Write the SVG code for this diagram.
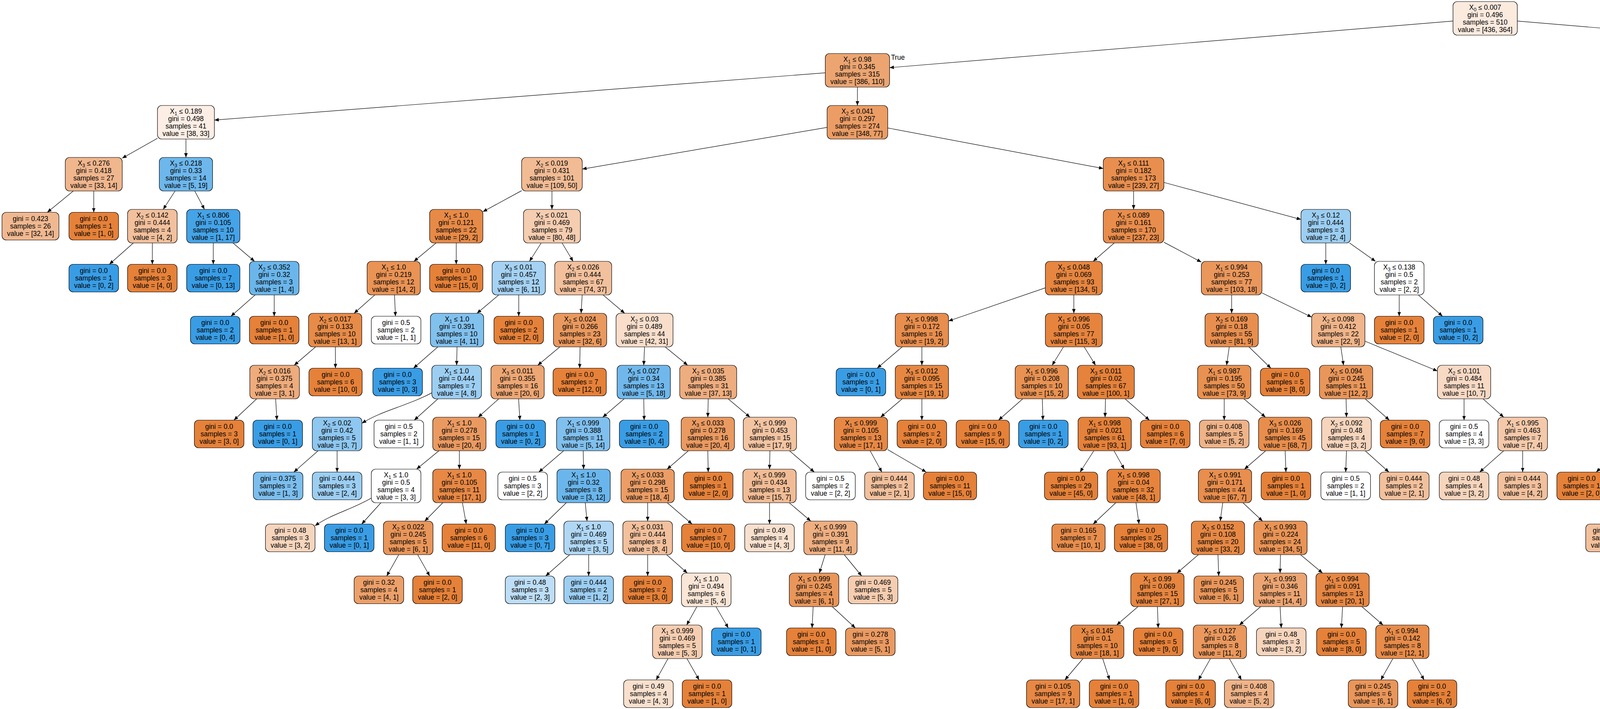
<svg xmlns="http://www.w3.org/2000/svg" width="7158" height="1815" viewBox="0 0 7158 1815">
<style>
rect{stroke:#000;stroke-width:1.2}
text{font-family:"Liberation Sans",Arial,Helvetica,sans-serif;font-size:17.5px;text-anchor:middle;fill:#000}
.s{font-size:12.5px}
.o{fill:#e58139}.b{fill:#399de5}.w{fill:#fff}
#edges path{fill:none;stroke:#000;stroke-width:1.2;marker-end:url(#a)}
</style>
<defs><marker id="a" markerWidth="12" markerHeight="10" refX="11" refY="4.5" orient="auto" markerUnits="userSpaceOnUse"><path d="M0 0L11 4.5L0 9z" fill="#000"/></marker></defs>
<g id="edges">
<path d="M3719.6 53.8L2277.4 173.2"/><path d="M3884.4 53.9L5307.4 173.5"/><path d="M2112.6 186.4L548.9 307.4"/><path d="M2195 223L2195 270"/>
<path d="M403.1 354.1L312.9 404.9"/><path d="M476 356L476 403"/><path d="M187.6 489L121.2 543.5"/><path d="M240 489L240 543.5"/>
<path d="M448.2 489L417.8 536"/><path d="M498.6 489L523.4 536"/><path d="M341.5 622L280 676.5"/><path d="M390 622L390 676.5"/>
<path d="M546 622L546 676.5"/><path d="M596.4 622L651.6 669"/><path d="M653.2 755L591.3 809.5"/><path d="M702 755L702 809.5"/>
<path d="M2117.4 326.2L1490.6 432.8"/><path d="M2272.6 327.6L2824.4 431.4"/><path d="M1335.4 488.1L1236.2 542"/><path d="M1413 489L1413 536"/>
<path d="M1116.3 622L1059.7 669"/><path d="M1168 622L1168 676.5"/><path d="M959.5 755L906.5 802"/><path d="M1009.9 755L1012.4 809.5"/>
<path d="M807.9 888L753.1 935"/><path d="M858.5 888L858.7 942.5"/><path d="M657.1 1021L598.9 1075.5"/><path d="M705.6 1021L708.9 1075.5"/>
<path d="M1385.5 622L1355.5 669"/><path d="M1438.9 622L1467.1 669"/><path d="M1276.9 755L1221.1 802"/><path d="M1328 755L1328 809.5"/>
<path d="M1120.9 888L1058.6 942.5"/><path d="M1170 888L1169 935"/><path d="M1105.5 1005.6C1040 1040 980 1050 926.5 1083.4"/><path d="M1121.1 1021L1060.5 1075.5"/>
<path d="M814.2 1154L752.3 1208.5"/><path d="M863 1154L863 1208.5"/><path d="M1490.4 755L1487.6 802"/><path d="M1543.8 755L1599.2 802"/>
<path d="M1433.3 888L1376.7 935"/><path d="M1485 888L1484 942.5"/><path d="M1276.8 1021L1224.2 1068"/><path d="M1327.6 1021L1330.9 1075.5"/>
<path d="M1123.6 1154L1066.4 1201"/><path d="M1176 1154L1176 1201"/><path d="M950.5 1275.1C900 1305 850 1315 806.5 1345.9"/><path d="M975.2 1287L926 1341.5"/>
<path d="M1133.6 1287L1087.4 1334"/><path d="M1183.8 1287L1193.6 1341.5"/><path d="M1020.8 1420L990 1474.5"/><path d="M1069.2 1420L1100 1474.5"/>
<path d="M1650 888L1648 935"/><path d="M1702.7 888L1760.3 935"/><path d="M1597.9 1021L1543.1 1068"/><path d="M1648 1021L1649 1075.5"/>
<path d="M1442.9 1154L1379.4 1208.5"/><path d="M1493 1154L1494 1201"/><path d="M1449.7 1287L1393.6 1341.5"/><path d="M1498.2 1287L1502.8 1334"/>
<path d="M1458.5 1420L1397 1474.5"/><path d="M1507 1420L1507 1474.5"/><path d="M1813 1021L1812 1068"/><path d="M1864.1 1021L1919.9 1068"/>
<path d="M1762.2 1154L1707.8 1201"/><path d="M1812 1154L1813 1208.5"/><path d="M1658 1287L1658 1334"/><path d="M1708.1 1287L1771.6 1341.5"/>
<path d="M1658 1420L1658 1474.5"/><path d="M1706.5 1420L1759.5 1467"/><path d="M1784.1 1553L1757.9 1600"/><path d="M1832.9 1553L1864.4 1607.5"/>
<path d="M1710.1 1686L1679.8 1740.5"/><path d="M1758.6 1686L1789.7 1740.5"/><path d="M1971 1154L1970 1201"/><path d="M2021.1 1154L2084.6 1208.5"/>
<path d="M1970 1287L1970 1341.5"/><path d="M2020.4 1287L2075.6 1334"/><path d="M2112.4 1420L2097.6 1467"/><path d="M2161.2 1420L2205.9 1474.5"/>
<path d="M2081.7 1553L2078.9 1607.5"/><path d="M2130.6 1553L2189.6 1607.5"/><path d="M2902 489L2902 536"/><path d="M2979.6 467L3330.5 561.8"/>
<path d="M2852.5 622L2798.5 669"/><path d="M2979.6 620.1L3075.4 670.9"/><path d="M2676.1 736.9L2428.2 821.7"/><path d="M2749 755L2749 802"/>
<path d="M2309.6 888L2245.6 942.5"/><path d="M2360 888L2360 935"/><path d="M2309.6 1021L2254.4 1068"/><path d="M2360 1021L2360 1075.5"/>
<path d="M2227.6 1154L2257.5 1208.5"/><path d="M2272.2 1150.8L2371.1 1208.5"/><path d="M2722.5 888L2693.5 935"/><path d="M2775.5 888L2804.5 935"/>
<path d="M2618.2 1021L2556.3 1075.5"/><path d="M2668.3 1021L2669.9 1075.5"/><path d="M2830 1021L2829 1068"/><path d="M2880.1 1021L2942.4 1075.5"/>
<path d="M2800.2 1154L2765 1208.5"/><path d="M2851.9 1154L2878.1 1201"/><path d="M2856.4 1287L2798.6 1341.5"/><path d="M2908.1 1287L2915.9 1341.5"/>
<path d="M3153 755L3153 802"/><path d="M3230.6 749.8L3357.8 811.8"/><path d="M3146.9 888L3140.1 935"/><path d="M3197.3 888L3253.4 942.5"/>
<path d="M3134 1021L3134 1075.5"/><path d="M3184.4 1021L3239.6 1068"/><path d="M3240.2 1154L3185.8 1201"/><path d="M3290 1154L3292 1208.5"/>
<path d="M3130.2 1287L3123.8 1334"/><path d="M3181.9 1287L3232.1 1334"/><path d="M3067.9 1420L3013.1 1467"/><path d="M3118 1420L3120 1474.5"/>
<path d="M2913.2 1553L2858.8 1600"/><path d="M2963 1553L2965 1607.5"/><path d="M2772.5 1686L2726.2 1740.5"/><path d="M2822.9 1686L2840.5 1740.5"/>
<path d="M3278 1420L3277 1467"/><path d="M3329.4 1420L3385.6 1467"/><path d="M3227.2 1553L3172.8 1600"/><path d="M3277 1553L3280 1607.5"/>
<path d="M3098.8 1686L3068 1740.5"/><path d="M3147.2 1686L3178 1740.5"/><path d="M3437 1553L3434 1607.5"/><path d="M3486.5 1553L3540.5 1600"/>
<path d="M3565.8 1686L3535 1740.5"/><path d="M3614.6 1686L3645.7 1740.5"/><path d="M3432.5 888L3439.5 935"/><path d="M3494.2 873.2L3679.8 949.8"/>
<path d="M3446 1021L3447 1068"/><path d="M3494.8 1021L3556.7 1075.5"/><path d="M3447 1154L3445 1208.5"/><path d="M3494.9 1154L3555.5 1208.5"/>
<path d="M3748 1021L3748 1075.5"/><path d="M3796.5 1021L3849.5 1068"/><path d="M3849.5 1154L3788 1208.5"/><path d="M3898 1154L3898 1208.5"/>
<path d="M3394 622L3394 676.5"/><path d="M3454.8 622L3521.2 669"/><path d="M3582 755L3582 809.5"/><path d="M3630.8 755L3692.7 809.5"/>
<path d="M5385 223L5385 270"/><path d="M5462.6 188.7L6496.1 304.8"/><path d="M5358.5 356L5324.9 410.5"/><path d="M5411.8 356L5441.2 403"/>
<path d="M5419.2 489L5365.8 536"/><path d="M5543.3 489L5628.1 537.4"/><path d="M5244.1 620.1L5153.9 670.9"/><path d="M5317 622L5317 669"/>
<path d="M5008.1 731L4638.2 827.3"/><path d="M5081 755L5081 802"/><path d="M4501.8 884.3L4402.5 941.5"/><path d="M4570 888L4570 935"/>
<path d="M4290.5 1021L4237.5 1068"/><path d="M4339 1021L4339 1075.5"/><path d="M4143.7 1154L4086.4 1208.5"/><path d="M4192.2 1154L4195.8 1201"/>
<path d="M4174.4 1287L4143.3 1341.5"/><path d="M4223.2 1287L4249.8 1334"/><path d="M4249.4 1420L4218.3 1474.5"/><path d="M4298.2 1420L4329 1474.5"/>
<path d="M4544.1 1021L4515.9 1068"/><path d="M4595.2 1021L4627.2 1075.5"/><path d="M4444.7 1154L4387.4 1208.5"/><path d="M4493.6 1154L4498.1 1208.5"/>
<path d="M5039.6 888L4994.4 935"/><path d="M5088.4 888L5096.6 935"/><path d="M4904.2 1021L4850.8 1068"/><path d="M4953 1021L4953 1075.5"/>
<path d="M4753.5 1154L4700.5 1201"/><path d="M4802 1154L4802 1208.5"/><path d="M4627.1 1287L4595.6 1341.5"/><path d="M4675.9 1287L4706.2 1341.5"/>
<path d="M5104 1021L5104 1068"/><path d="M5152.5 1021L5205.5 1068"/><path d="M5055.2 1154L4993.3 1208.5"/><path d="M5104 1154L5104 1208.5"/>
<path d="M5254 1154L5254 1208.5"/><path d="M5302.8 1154L5364.7 1208.5"/><path d="M5305.7 755L5293.3 802"/><path d="M5357.4 755L5408.6 809.5"/>
<path d="M5274.9 888L5267.1 935"/><path d="M5325.6 888L5381 942.5"/><path d="M5323.5 1016.5L5415.5 1072.5"/><path d="M5323.5 1019C5385 1045 5480 1040 5570 1075.5"/>
<path d="M5503.9 1154L5535.4 1208.5"/><path d="M5542.5 1148L5643.5 1207"/><path d="M5682.1 1287L5650.6 1341.5"/><path d="M5730.9 1287L5761.2 1341.5"/>
<path d="M5701 622L5701 669"/><path d="M5773.9 616.4L5891.8 677"/><path d="M5676.1 755L5648.9 802"/><path d="M5724.9 755L5755.2 809.5"/>
<path d="M5607.5 888L5586.6 942.5"/><path d="M5656 888L5696.6 942.5"/><path d="M5960 755L5960 802"/><path d="M6028.2 752.1L6122.5 807.7"/>
<path d="M5933.8 888L5900.6 942.5"/><path d="M5984.6 888L6011.4 935"/><path d="M5987.2 1021L5925.3 1075.5"/><path d="M6036 1021L6036 1075.5"/>
<path d="M6186 888L6186 935"/><path d="M6234.5 888L6296 942.5"/><path d="M6186 1021L6186 1075.5"/><path d="M6234.5 1021L6287.5 1068"/>
<path d="M6292 1154L6236.3 1208.5"/><path d="M6340.5 1154L6346.3 1208.5"/><path d="M6569 356L6569 403"/><path d="M6622.3 356L6690 410.5"/>
<path d="M6569 489L6569 536"/><path d="M6621.4 489L6687.8 543.5"/><path d="M6569 622L6569 669"/><path d="M6641.9 620.1L6736.8 673.6"/>
<path d="M6544.8 755L6518.2 802"/><path d="M6594.9 755L6627.6 809.5"/><path d="M6494 888L6493 942.5"/><path d="M6544.1 888L6598.9 935"/>
<path d="M6603.1 1021L6544.9 1075.5"/><path d="M6651.9 1021L6655.1 1068"/><path d="M6611.8 1154L6553.2 1208.5"/><path d="M6660.6 1154L6663.9 1208.5"/>
<path d="M6805 755L6805 802"/><path d="M6856.7 755L6922.3 809.5"/><path d="M6805 888L6802 942.5"/><path d="M6854.8 888L6909.2 935"/>
<path d="M6948 1021L6936 1068"/><path d="M7000.7 1021L7053.6 1075.5"/><path d="M6903 1154L6875.2 1208.5"/><path d="M6951.5 1154L6985.1 1208.5"/>
</g>
<text x="2281" y="153" style="text-anchor:start">True</text>
<text x="5306" y="153" style="text-anchor:end">False</text>
<g id="n0"><rect x="3719.65" y="4" width="164.7" height="86" rx="11" fill="#fbeade"/><text x="3802" y="24.5">X<tspan class="s" dy="4">0</tspan><tspan dy="-4"> ≤ 0.007</tspan><tspan x="3802" dy="19">gini = 0.496</tspan><tspan x="3802" dy="19">samples = 510</tspan><tspan x="3802" dy="19">value = [436, 364]</tspan></text></g>
<g id="n1"><rect x="2112.65" y="137" width="164.7" height="86" rx="11" fill="#eca571"/><text x="2195" y="157.5">X<tspan class="s" dy="4">1</tspan><tspan dy="-4"> ≤ 0.98</tspan><tspan x="2195" dy="19">gini = 0.345</tspan><tspan x="2195" dy="19">samples = 315</tspan><tspan x="2195" dy="19">value = [386, 110]</tspan></text></g>
<g id="n2"><rect x="403.1" y="270" width="145.8" height="86" rx="11" fill="#fceee5"/><text x="476" y="290.5">X<tspan class="s" dy="4">1</tspan><tspan dy="-4"> ≤ 0.189</tspan><tspan x="476" dy="19">gini = 0.498</tspan><tspan x="476" dy="19">samples = 41</tspan><tspan x="476" dy="19">value = [38, 33]</tspan></text></g>
<g id="n3"><rect x="167.1" y="403" width="145.8" height="86" rx="11" fill="#f0b68d"/><text x="240" y="423.5">X<tspan class="s" dy="4">3</tspan><tspan dy="-4"> ≤ 0.276</tspan><tspan x="240" dy="19">gini = 0.418</tspan><tspan x="240" dy="19">samples = 27</tspan><tspan x="240" dy="19">value = [33, 14]</tspan></text></g>
<g id="n4"><rect x="5.1" y="543.5" width="145.8" height="71" rx="11" fill="#f0b890"/><text x="78" y="566">gini = 0.423<tspan x="78" dy="19">samples = 26</tspan><tspan x="78" dy="19">value = [32, 14]</tspan></text></g>
<g id="n5"><rect x="176.5" y="543.5" width="127" height="71" rx="11" class="o"/><text x="240" y="566">gini = 0.0<tspan x="240" dy="19">samples = 1</tspan><tspan x="240" dy="19">value = [1, 0]</tspan></text></g>
<g id="n6"><rect x="407.8" y="403" width="136.4" height="86" rx="11" fill="#6db7ec"/><text x="476" y="423.5">X<tspan class="s" dy="4">3</tspan><tspan dy="-4"> ≤ 0.218</tspan><tspan x="476" dy="19">gini = 0.33</tspan><tspan x="476" dy="19">samples = 14</tspan><tspan x="476" dy="19">value = [5, 19]</tspan></text></g>
<g id="n7"><rect x="326.5" y="536" width="127" height="86" rx="11" fill="#f2c09c"/><text x="390" y="556.5">X<tspan class="s" dy="4">2</tspan><tspan dy="-4"> ≤ 0.142</tspan><tspan x="390" dy="19">gini = 0.444</tspan><tspan x="390" dy="19">samples = 4</tspan><tspan x="390" dy="19">value = [4, 2]</tspan></text></g>
<g id="n8"><rect x="176.5" y="676.5" width="127" height="71" rx="11" class="b"/><text x="240" y="699">gini = 0.0<tspan x="240" dy="19">samples = 1</tspan><tspan x="240" dy="19">value = [0, 2]</tspan></text></g>
<g id="n9"><rect x="326.5" y="676.5" width="127" height="71" rx="11" class="o"/><text x="390" y="699">gini = 0.0<tspan x="390" dy="19">samples = 3</tspan><tspan x="390" dy="19">value = [4, 0]</tspan></text></g>
<g id="n10"><rect x="477.8" y="536" width="136.4" height="86" rx="11" fill="#45a3e7"/><text x="546" y="556.5">X<tspan class="s" dy="4">1</tspan><tspan dy="-4"> ≤ 0.806</tspan><tspan x="546" dy="19">gini = 0.105</tspan><tspan x="546" dy="19">samples = 10</tspan><tspan x="546" dy="19">value = [1, 17]</tspan></text></g>
<g id="n11"><rect x="477.8" y="676.5" width="136.4" height="71" rx="11" class="b"/><text x="546" y="699">gini = 0.0<tspan x="546" dy="19">samples = 7</tspan><tspan x="546" dy="19">value = [0, 13]</tspan></text></g>
<g id="n12"><rect x="638.5" y="669" width="127" height="86" rx="11" fill="#6ab6ec"/><text x="702" y="689.5">X<tspan class="s" dy="4">2</tspan><tspan dy="-4"> ≤ 0.352</tspan><tspan x="702" dy="19">gini = 0.32</tspan><tspan x="702" dy="19">samples = 3</tspan><tspan x="702" dy="19">value = [1, 4]</tspan></text></g>
<g id="n13"><rect x="487.5" y="809.5" width="127" height="71" rx="11" class="b"/><text x="551" y="832">gini = 0.0<tspan x="551" dy="19">samples = 2</tspan><tspan x="551" dy="19">value = [0, 4]</tspan></text></g>
<g id="n14"><rect x="638.5" y="809.5" width="127" height="71" rx="11" class="o"/><text x="702" y="832">gini = 0.0<tspan x="702" dy="19">samples = 1</tspan><tspan x="702" dy="19">value = [1, 0]</tspan></text></g>
<g id="n15"><rect x="2117.4" y="270" width="155.2" height="86" rx="11" fill="#eb9d65"/><text x="2195" y="290.5">X<tspan class="s" dy="4">2</tspan><tspan dy="-4"> ≤ 0.041</tspan><tspan x="2195" dy="19">gini = 0.297</tspan><tspan x="2195" dy="19">samples = 274</tspan><tspan x="2195" dy="19">value = [348, 77]</tspan></text></g>
<g id="n16"><rect x="1335.4" y="403" width="155.2" height="86" rx="11" fill="#f1bb94"/><text x="1413" y="423.5">X<tspan class="s" dy="4">2</tspan><tspan dy="-4"> ≤ 0.019</tspan><tspan x="1413" dy="19">gini = 0.431</tspan><tspan x="1413" dy="19">samples = 101</tspan><tspan x="1413" dy="19">value = [109, 50]</tspan></text></g>
<g id="n17"><rect x="1099.8" y="536" width="136.4" height="86" rx="11" fill="#e78a47"/><text x="1168" y="556.5">X<tspan class="s" dy="4">1</tspan><tspan dy="-4"> ≤ 1.0</tspan><tspan x="1168" dy="19">gini = 0.121</tspan><tspan x="1168" dy="19">samples = 22</tspan><tspan x="1168" dy="19">value = [29, 2]</tspan></text></g>
<g id="n18"><rect x="939.8" y="669" width="136.4" height="86" rx="11" fill="#e99355"/><text x="1008" y="689.5">X<tspan class="s" dy="4">1</tspan><tspan dy="-4"> ≤ 1.0</tspan><tspan x="1008" dy="19">gini = 0.219</tspan><tspan x="1008" dy="19">samples = 12</tspan><tspan x="1008" dy="19">value = [14, 2]</tspan></text></g>
<g id="n19"><rect x="789.8" y="802" width="136.4" height="86" rx="11" fill="#e78b48"/><text x="858" y="822.5">X<tspan class="s" dy="4">2</tspan><tspan dy="-4"> ≤ 0.017</tspan><tspan x="858" dy="19">gini = 0.133</tspan><tspan x="858" dy="19">samples = 10</tspan><tspan x="858" dy="19">value = [13, 1]</tspan></text></g>
<g id="n20"><rect x="639.5" y="935" width="127" height="86" rx="11" fill="#eeab7b"/><text x="703" y="955.5">X<tspan class="s" dy="4">2</tspan><tspan dy="-4"> ≤ 0.016</tspan><tspan x="703" dy="19">gini = 0.375</tspan><tspan x="703" dy="19">samples = 4</tspan><tspan x="703" dy="19">value = [3, 1]</tspan></text></g>
<g id="n21"><rect x="497.5" y="1075.5" width="127" height="71" rx="11" class="o"/><text x="561" y="1098">gini = 0.0<tspan x="561" dy="19">samples = 3</tspan><tspan x="561" dy="19">value = [3, 0]</tspan></text></g>
<g id="n22"><rect x="647.5" y="1075.5" width="127" height="71" rx="11" class="b"/><text x="711" y="1098">gini = 0.0<tspan x="711" dy="19">samples = 1</tspan><tspan x="711" dy="19">value = [0, 1]</tspan></text></g>
<g id="n23"><rect x="790.8" y="942.5" width="136.4" height="71" rx="11" class="o"/><text x="859" y="965">gini = 0.0<tspan x="859" dy="19">samples = 6</tspan><tspan x="859" dy="19">value = [10, 0]</tspan></text></g>
<g id="n24"><rect x="950.5" y="809.5" width="127" height="71" rx="11" class="w"/><text x="1014" y="832">gini = 0.5<tspan x="1014" dy="19">samples = 2</tspan><tspan x="1014" dy="19">value = [1, 1]</tspan></text></g>
<g id="n25"><rect x="1099.8" y="676.5" width="136.4" height="71" rx="11" class="o"/><text x="1168" y="699">gini = 0.0<tspan x="1168" dy="19">samples = 10</tspan><tspan x="1168" dy="19">value = [15, 0]</tspan></text></g>
<g id="n26"><rect x="1340.1" y="536" width="145.8" height="86" rx="11" fill="#f5cdb0"/><text x="1413" y="556.5">X<tspan class="s" dy="4">2</tspan><tspan dy="-4"> ≤ 0.021</tspan><tspan x="1413" dy="19">gini = 0.469</tspan><tspan x="1413" dy="19">samples = 79</tspan><tspan x="1413" dy="19">value = [80, 48]</tspan></text></g>
<g id="n27"><rect x="1259.8" y="669" width="136.4" height="86" rx="11" fill="#a5d2f3"/><text x="1328" y="689.5">X<tspan class="s" dy="4">3</tspan><tspan dy="-4"> ≤ 0.01</tspan><tspan x="1328" dy="19">gini = 0.457</tspan><tspan x="1328" dy="19">samples = 12</tspan><tspan x="1328" dy="19">value = [6, 11]</tspan></text></g>
<g id="n28"><rect x="1101.8" y="802" width="136.4" height="86" rx="11" fill="#81c1ee"/><text x="1170" y="822.5">X<tspan class="s" dy="4">1</tspan><tspan dy="-4"> ≤ 1.0</tspan><tspan x="1170" dy="19">gini = 0.391</tspan><tspan x="1170" dy="19">samples = 10</tspan><tspan x="1170" dy="19">value = [4, 11]</tspan></text></g>
<g id="n29"><rect x="954.5" y="942.5" width="127" height="71" rx="11" class="b"/><text x="1018" y="965">gini = 0.0<tspan x="1018" dy="19">samples = 3</tspan><tspan x="1018" dy="19">value = [0, 3]</tspan></text></g>
<g id="n30"><rect x="1105.5" y="935" width="127" height="86" rx="11" fill="#9ccef2"/><text x="1169" y="955.5">X<tspan class="s" dy="4">1</tspan><tspan dy="-4"> ≤ 1.0</tspan><tspan x="1169" dy="19">gini = 0.444</tspan><tspan x="1169" dy="19">samples = 7</tspan><tspan x="1169" dy="19">value = [4, 8]</tspan></text></g>
<g id="n31"><rect x="799.5" y="1068" width="127" height="86" rx="11" fill="#8ec7f0"/><text x="863" y="1088.5">X<tspan class="s" dy="4">2</tspan><tspan dy="-4"> ≤ 0.02</tspan><tspan x="863" dy="19">gini = 0.42</tspan><tspan x="863" dy="19">samples = 5</tspan><tspan x="863" dy="19">value = [3, 7]</tspan></text></g>
<g id="n32"><rect x="648.5" y="1208.5" width="127" height="71" rx="11" fill="#7bbeee"/><text x="712" y="1231">gini = 0.375<tspan x="712" dy="19">samples = 2</tspan><tspan x="712" dy="19">value = [1, 3]</tspan></text></g>
<g id="n33"><rect x="799.5" y="1208.5" width="127" height="71" rx="11" fill="#9ccef2"/><text x="863" y="1231">gini = 0.444<tspan x="863" dy="19">samples = 3</tspan><tspan x="863" dy="19">value = [2, 4]</tspan></text></g>
<g id="n34"><rect x="957.5" y="1075.5" width="127" height="71" rx="11" class="w"/><text x="1021" y="1098">gini = 0.5<tspan x="1021" dy="19">samples = 2</tspan><tspan x="1021" dy="19">value = [1, 1]</tspan></text></g>
<g id="n35"><rect x="1264.5" y="809.5" width="127" height="71" rx="11" class="o"/><text x="1328" y="832">gini = 0.0<tspan x="1328" dy="19">samples = 2</tspan><tspan x="1328" dy="19">value = [2, 0]</tspan></text></g>
<g id="n36"><rect x="1420.1" y="669" width="145.8" height="86" rx="11" fill="#f2c09c"/><text x="1493" y="689.5">X<tspan class="s" dy="4">2</tspan><tspan dy="-4"> ≤ 0.026</tspan><tspan x="1493" dy="19">gini = 0.444</tspan><tspan x="1493" dy="19">samples = 67</tspan><tspan x="1493" dy="19">value = [74, 37]</tspan></text></g>
<g id="n37"><rect x="1416.8" y="802" width="136.4" height="86" rx="11" fill="#ea995e"/><text x="1485" y="822.5">X<tspan class="s" dy="4">2</tspan><tspan dy="-4"> ≤ 0.024</tspan><tspan x="1485" dy="19">gini = 0.266</tspan><tspan x="1485" dy="19">samples = 23</tspan><tspan x="1485" dy="19">value = [32, 6]</tspan></text></g>
<g id="n38"><rect x="1256.8" y="935" width="136.4" height="86" rx="11" fill="#eda774"/><text x="1325" y="955.5">X<tspan class="s" dy="4">3</tspan><tspan dy="-4"> ≤ 0.011</tspan><tspan x="1325" dy="19">gini = 0.355</tspan><tspan x="1325" dy="19">samples = 16</tspan><tspan x="1325" dy="19">value = [20, 6]</tspan></text></g>
<g id="n39"><rect x="1107.8" y="1068" width="136.4" height="86" rx="11" fill="#ea9a61"/><text x="1176" y="1088.5">X<tspan class="s" dy="4">1</tspan><tspan dy="-4"> ≤ 1.0</tspan><tspan x="1176" dy="19">gini = 0.278</tspan><tspan x="1176" dy="19">samples = 15</tspan><tspan x="1176" dy="19">value = [20, 4]</tspan></text></g>
<g id="n40"><rect x="950.5" y="1201" width="127" height="86" rx="11" class="w"/><text x="1014" y="1221.5">X<tspan class="s" dy="4">1</tspan><tspan dy="-4"> ≤ 1.0</tspan><tspan x="1014" dy="19">gini = 0.5</tspan><tspan x="1014" dy="19">samples = 4</tspan><tspan x="1014" dy="19">value = [3, 3]</tspan></text></g>
<g id="n41"><rect x="679.5" y="1341.5" width="127" height="71" rx="11" fill="#f6d5bd"/><text x="743" y="1364">gini = 0.48<tspan x="743" dy="19">samples = 3</tspan><tspan x="743" dy="19">value = [3, 2]</tspan></text></g>
<g id="n42"><rect x="830.5" y="1341.5" width="127" height="71" rx="11" class="b"/><text x="894" y="1364">gini = 0.0<tspan x="894" dy="19">samples = 1</tspan><tspan x="894" dy="19">value = [0, 1]</tspan></text></g>
<g id="n43"><rect x="1107.8" y="1201" width="136.4" height="86" rx="11" fill="#e78845"/><text x="1176" y="1221.5">X<tspan class="s" dy="4">1</tspan><tspan dy="-4"> ≤ 1.0</tspan><tspan x="1176" dy="19">gini = 0.105</tspan><tspan x="1176" dy="19">samples = 11</tspan><tspan x="1176" dy="19">value = [17, 1]</tspan></text></g>
<g id="n44"><rect x="981.5" y="1334" width="127" height="86" rx="11" fill="#e9965a"/><text x="1045" y="1354.5">X<tspan class="s" dy="4">2</tspan><tspan dy="-4"> ≤ 0.022</tspan><tspan x="1045" dy="19">gini = 0.245</tspan><tspan x="1045" dy="19">samples = 5</tspan><tspan x="1045" dy="19">value = [6, 1]</tspan></text></g>
<g id="n45"><rect x="906.5" y="1474.5" width="127" height="71" rx="11" fill="#eca06a"/><text x="970" y="1497">gini = 0.32<tspan x="970" dy="19">samples = 4</tspan><tspan x="970" dy="19">value = [4, 1]</tspan></text></g>
<g id="n46"><rect x="1056.5" y="1474.5" width="127" height="71" rx="11" class="o"/><text x="1120" y="1497">gini = 0.0<tspan x="1120" dy="19">samples = 1</tspan><tspan x="1120" dy="19">value = [2, 0]</tspan></text></g>
<g id="n47"><rect x="1131.8" y="1341.5" width="136.4" height="71" rx="11" class="o"/><text x="1200" y="1364">gini = 0.0<tspan x="1200" dy="19">samples = 6</tspan><tspan x="1200" dy="19">value = [11, 0]</tspan></text></g>
<g id="n48"><rect x="1269.5" y="1075.5" width="127" height="71" rx="11" class="b"/><text x="1333" y="1098">gini = 0.0<tspan x="1333" dy="19">samples = 1</tspan><tspan x="1333" dy="19">value = [0, 2]</tspan></text></g>
<g id="n49"><rect x="1415.8" y="942.5" width="136.4" height="71" rx="11" class="o"/><text x="1484" y="965">gini = 0.0<tspan x="1484" dy="19">samples = 7</tspan><tspan x="1484" dy="19">value = [12, 0]</tspan></text></g>
<g id="n50"><rect x="1577.1" y="802" width="145.8" height="86" rx="11" fill="#f8decb"/><text x="1650" y="822.5">X<tspan class="s" dy="4">2</tspan><tspan dy="-4"> ≤ 0.03</tspan><tspan x="1650" dy="19">gini = 0.489</tspan><tspan x="1650" dy="19">samples = 44</tspan><tspan x="1650" dy="19">value = [42, 31]</tspan></text></g>
<g id="n51"><rect x="1579.8" y="935" width="136.4" height="86" rx="11" fill="#70b8ec"/><text x="1648" y="955.5">X<tspan class="s" dy="4">3</tspan><tspan dy="-4"> ≤ 0.027</tspan><tspan x="1648" dy="19">gini = 0.34</tspan><tspan x="1648" dy="19">samples = 13</tspan><tspan x="1648" dy="19">value = [5, 18]</tspan></text></g>
<g id="n52"><rect x="1424.8" y="1068" width="136.4" height="86" rx="11" fill="#80c0ee"/><text x="1493" y="1088.5">X<tspan class="s" dy="4">1</tspan><tspan dy="-4"> ≤ 0.999</tspan><tspan x="1493" dy="19">gini = 0.388</tspan><tspan x="1493" dy="19">samples = 11</tspan><tspan x="1493" dy="19">value = [5, 14]</tspan></text></g>
<g id="n53"><rect x="1274.5" y="1208.5" width="127" height="71" rx="11" class="w"/><text x="1338" y="1231">gini = 0.5<tspan x="1338" dy="19">samples = 3</tspan><tspan x="1338" dy="19">value = [2, 2]</tspan></text></g>
<g id="n54"><rect x="1425.8" y="1201" width="136.4" height="86" rx="11" fill="#6ab6ec"/><text x="1494" y="1221.5">X<tspan class="s" dy="4">1</tspan><tspan dy="-4"> ≤ 1.0</tspan><tspan x="1494" dy="19">gini = 0.32</tspan><tspan x="1494" dy="19">samples = 8</tspan><tspan x="1494" dy="19">value = [3, 12]</tspan></text></g>
<g id="n55"><rect x="1293.5" y="1341.5" width="127" height="71" rx="11" class="b"/><text x="1357" y="1364">gini = 0.0<tspan x="1357" dy="19">samples = 3</tspan><tspan x="1357" dy="19">value = [0, 7]</tspan></text></g>
<g id="n56"><rect x="1443.5" y="1334" width="127" height="86" rx="11" fill="#b0d8f5"/><text x="1507" y="1354.5">X<tspan class="s" dy="4">1</tspan><tspan dy="-4"> ≤ 1.0</tspan><tspan x="1507" dy="19">gini = 0.469</tspan><tspan x="1507" dy="19">samples = 5</tspan><tspan x="1507" dy="19">value = [3, 5]</tspan></text></g>
<g id="n57"><rect x="1293.5" y="1474.5" width="127" height="71" rx="11" fill="#bddef6"/><text x="1357" y="1497">gini = 0.48<tspan x="1357" dy="19">samples = 3</tspan><tspan x="1357" dy="19">value = [2, 3]</tspan></text></g>
<g id="n58"><rect x="1443.5" y="1474.5" width="127" height="71" rx="11" fill="#9ccef2"/><text x="1507" y="1497">gini = 0.444<tspan x="1507" dy="19">samples = 2</tspan><tspan x="1507" dy="19">value = [1, 2]</tspan></text></g>
<g id="n59"><rect x="1585.5" y="1075.5" width="127" height="71" rx="11" class="b"/><text x="1649" y="1098">gini = 0.0<tspan x="1649" dy="19">samples = 2</tspan><tspan x="1649" dy="19">value = [0, 4]</tspan></text></g>
<g id="n60"><rect x="1740.1" y="935" width="145.8" height="86" rx="11" fill="#eead7f"/><text x="1813" y="955.5">X<tspan class="s" dy="4">2</tspan><tspan dy="-4"> ≤ 0.035</tspan><tspan x="1813" dy="19">gini = 0.385</tspan><tspan x="1813" dy="19">samples = 31</tspan><tspan x="1813" dy="19">value = [37, 13]</tspan></text></g>
<g id="n61"><rect x="1743.8" y="1068" width="136.4" height="86" rx="11" fill="#ea9a61"/><text x="1812" y="1088.5">X<tspan class="s" dy="4">3</tspan><tspan dy="-4"> ≤ 0.033</tspan><tspan x="1812" dy="19">gini = 0.278</tspan><tspan x="1812" dy="19">samples = 16</tspan><tspan x="1812" dy="19">value = [20, 4]</tspan></text></g>
<g id="n62"><rect x="1589.8" y="1201" width="136.4" height="86" rx="11" fill="#eb9d65"/><text x="1658" y="1221.5">X<tspan class="s" dy="4">2</tspan><tspan dy="-4"> ≤ 0.033</tspan><tspan x="1658" dy="19">gini = 0.298</tspan><tspan x="1658" dy="19">samples = 15</tspan><tspan x="1658" dy="19">value = [18, 4]</tspan></text></g>
<g id="n63"><rect x="1594.5" y="1334" width="127" height="86" rx="11" fill="#f2c09c"/><text x="1658" y="1354.5">X<tspan class="s" dy="4">2</tspan><tspan dy="-4"> ≤ 0.031</tspan><tspan x="1658" dy="19">gini = 0.444</tspan><tspan x="1658" dy="19">samples = 8</tspan><tspan x="1658" dy="19">value = [8, 4]</tspan></text></g>
<g id="n64"><rect x="1594.5" y="1474.5" width="127" height="71" rx="11" class="o"/><text x="1658" y="1497">gini = 0.0<tspan x="1658" dy="19">samples = 2</tspan><tspan x="1658" dy="19">value = [3, 0]</tspan></text></g>
<g id="n65"><rect x="1744.5" y="1467" width="127" height="86" rx="11" fill="#fae6d7"/><text x="1808" y="1487.5">X<tspan class="s" dy="4">1</tspan><tspan dy="-4"> ≤ 1.0</tspan><tspan x="1808" dy="19">gini = 0.494</tspan><tspan x="1808" dy="19">samples = 6</tspan><tspan x="1808" dy="19">value = [5, 4]</tspan></text></g>
<g id="n66"><rect x="1670.5" y="1600" width="127" height="86" rx="11" fill="#f5cdb0"/><text x="1734" y="1620.5">X<tspan class="s" dy="4">1</tspan><tspan dy="-4"> ≤ 0.999</tspan><tspan x="1734" dy="19">gini = 0.469</tspan><tspan x="1734" dy="19">samples = 5</tspan><tspan x="1734" dy="19">value = [5, 3]</tspan></text></g>
<g id="n67"><rect x="1596.5" y="1740.5" width="127" height="71" rx="11" fill="#f8e0ce"/><text x="1660" y="1763">gini = 0.49<tspan x="1660" dy="19">samples = 4</tspan><tspan x="1660" dy="19">value = [4, 3]</tspan></text></g>
<g id="n68"><rect x="1746.5" y="1740.5" width="127" height="71" rx="11" class="o"/><text x="1810" y="1763">gini = 0.0<tspan x="1810" dy="19">samples = 1</tspan><tspan x="1810" dy="19">value = [1, 0]</tspan></text></g>
<g id="n69"><rect x="1821.5" y="1607.5" width="127" height="71" rx="11" class="b"/><text x="1885" y="1630">gini = 0.0<tspan x="1885" dy="19">samples = 1</tspan><tspan x="1885" dy="19">value = [0, 1]</tspan></text></g>
<g id="n70"><rect x="1744.8" y="1341.5" width="136.4" height="71" rx="11" class="o"/><text x="1813" y="1364">gini = 0.0<tspan x="1813" dy="19">samples = 7</tspan><tspan x="1813" dy="19">value = [10, 0]</tspan></text></g>
<g id="n71"><rect x="1749.5" y="1208.5" width="127" height="71" rx="11" class="o"/><text x="1813" y="1231">gini = 0.0<tspan x="1813" dy="19">samples = 1</tspan><tspan x="1813" dy="19">value = [2, 0]</tspan></text></g>
<g id="n72"><rect x="1902.8" y="1068" width="136.4" height="86" rx="11" fill="#f3c4a2"/><text x="1971" y="1088.5">X<tspan class="s" dy="4">1</tspan><tspan dy="-4"> ≤ 0.999</tspan><tspan x="1971" dy="19">gini = 0.453</tspan><tspan x="1971" dy="19">samples = 15</tspan><tspan x="1971" dy="19">value = [17, 9]</tspan></text></g>
<g id="n73"><rect x="1901.8" y="1201" width="136.4" height="86" rx="11" fill="#f1bc95"/><text x="1970" y="1221.5">X<tspan class="s" dy="4">1</tspan><tspan dy="-4"> ≤ 0.999</tspan><tspan x="1970" dy="19">gini = 0.434</tspan><tspan x="1970" dy="19">samples = 13</tspan><tspan x="1970" dy="19">value = [15, 7]</tspan></text></g>
<g id="n74"><rect x="1906.5" y="1341.5" width="127" height="71" rx="11" fill="#f8e0ce"/><text x="1970" y="1364">gini = 0.49<tspan x="1970" dy="19">samples = 4</tspan><tspan x="1970" dy="19">value = [4, 3]</tspan></text></g>
<g id="n75"><rect x="2057.8" y="1334" width="136.4" height="86" rx="11" fill="#eeaf81"/><text x="2126" y="1354.5">X<tspan class="s" dy="4">1</tspan><tspan dy="-4"> ≤ 0.999</tspan><tspan x="2126" dy="19">gini = 0.391</tspan><tspan x="2126" dy="19">samples = 9</tspan><tspan x="2126" dy="19">value = [11, 4]</tspan></text></g>
<g id="n76"><rect x="2020.5" y="1467" width="127" height="86" rx="11" fill="#e9965a"/><text x="2084" y="1487.5">X<tspan class="s" dy="4">1</tspan><tspan dy="-4"> ≤ 0.999</tspan><tspan x="2084" dy="19">gini = 0.245</tspan><tspan x="2084" dy="19">samples = 4</tspan><tspan x="2084" dy="19">value = [6, 1]</tspan></text></g>
<g id="n77"><rect x="2013.5" y="1607.5" width="127" height="71" rx="11" class="o"/><text x="2077" y="1630">gini = 0.0<tspan x="2077" dy="19">samples = 1</tspan><tspan x="2077" dy="19">value = [1, 0]</tspan></text></g>
<g id="n78"><rect x="2164.5" y="1607.5" width="127" height="71" rx="11" fill="#ea9a61"/><text x="2228" y="1630">gini = 0.278<tspan x="2228" dy="19">samples = 3</tspan><tspan x="2228" dy="19">value = [5, 1]</tspan></text></g>
<g id="n79"><rect x="2171.5" y="1474.5" width="127" height="71" rx="11" fill="#f5cdb0"/><text x="2235" y="1497">gini = 0.469<tspan x="2235" dy="19">samples = 5</tspan><tspan x="2235" dy="19">value = [5, 3]</tspan></text></g>
<g id="n80"><rect x="2062.5" y="1208.5" width="127" height="71" rx="11" class="w"/><text x="2126" y="1231">gini = 0.5<tspan x="2126" dy="19">samples = 2</tspan><tspan x="2126" dy="19">value = [2, 2]</tspan></text></g>
<g id="n81"><rect x="2824.4" y="403" width="155.2" height="86" rx="11" fill="#e88f4f"/><text x="2902" y="423.5">X<tspan class="s" dy="4">3</tspan><tspan dy="-4"> ≤ 0.111</tspan><tspan x="2902" dy="19">gini = 0.182</tspan><tspan x="2902" dy="19">samples = 173</tspan><tspan x="2902" dy="19">value = [239, 27]</tspan></text></g>
<g id="n82"><rect x="2824.4" y="536" width="155.2" height="86" rx="11" fill="#e88d4c"/><text x="2902" y="556.5">X<tspan class="s" dy="4">2</tspan><tspan dy="-4"> ≤ 0.089</tspan><tspan x="2902" dy="19">gini = 0.161</tspan><tspan x="2902" dy="19">samples = 170</tspan><tspan x="2902" dy="19">value = [237, 23]</tspan></text></g>
<g id="n83"><rect x="2676.1" y="669" width="145.8" height="86" rx="11" fill="#e68640"/><text x="2749" y="689.5">X<tspan class="s" dy="4">2</tspan><tspan dy="-4"> ≤ 0.048</tspan><tspan x="2749" dy="19">gini = 0.069</tspan><tspan x="2749" dy="19">samples = 93</tspan><tspan x="2749" dy="19">value = [134, 5]</tspan></text></g>
<g id="n84"><rect x="2291.8" y="802" width="136.4" height="86" rx="11" fill="#e88e4e"/><text x="2360" y="822.5">X<tspan class="s" dy="4">1</tspan><tspan dy="-4"> ≤ 0.998</tspan><tspan x="2360" dy="19">gini = 0.172</tspan><tspan x="2360" dy="19">samples = 16</tspan><tspan x="2360" dy="19">value = [19, 2]</tspan></text></g>
<g id="n85"><rect x="2140.5" y="942.5" width="127" height="71" rx="11" class="b"/><text x="2204" y="965">gini = 0.0<tspan x="2204" dy="19">samples = 1</tspan><tspan x="2204" dy="19">value = [0, 1]</tspan></text></g>
<g id="n86"><rect x="2291.8" y="935" width="136.4" height="86" rx="11" fill="#e68843"/><text x="2360" y="955.5">X<tspan class="s" dy="4">3</tspan><tspan dy="-4"> ≤ 0.012</tspan><tspan x="2360" dy="19">gini = 0.095</tspan><tspan x="2360" dy="19">samples = 15</tspan><tspan x="2360" dy="19">value = [19, 1]</tspan></text></g>
<g id="n87"><rect x="2135.8" y="1068" width="136.4" height="86" rx="11" fill="#e78845"/><text x="2204" y="1088.5">X<tspan class="s" dy="4">1</tspan><tspan dy="-4"> ≤ 0.999</tspan><tspan x="2204" dy="19">gini = 0.105</tspan><tspan x="2204" dy="19">samples = 13</tspan><tspan x="2204" dy="19">value = [17, 1]</tspan></text></g>
<g id="n88"><rect x="2213.5" y="1208.5" width="127" height="71" rx="11" fill="#f2c09c"/><text x="2277" y="1231">gini = 0.444<tspan x="2277" dy="19">samples = 2</tspan><tspan x="2277" dy="19">value = [2, 1]</tspan></text></g>
<g id="n89"><rect x="2363.8" y="1208.5" width="136.4" height="71" rx="11" class="o"/><text x="2432" y="1231">gini = 0.0<tspan x="2432" dy="19">samples = 11</tspan><tspan x="2432" dy="19">value = [15, 0]</tspan></text></g>
<g id="n90"><rect x="2296.5" y="1075.5" width="127" height="71" rx="11" class="o"/><text x="2360" y="1098">gini = 0.0<tspan x="2360" dy="19">samples = 2</tspan><tspan x="2360" dy="19">value = [2, 0]</tspan></text></g>
<g id="n91"><rect x="2676.1" y="802" width="145.8" height="86" rx="11" fill="#e6843e"/><text x="2749" y="822.5">X<tspan class="s" dy="4">1</tspan><tspan dy="-4"> ≤ 0.996</tspan><tspan x="2749" dy="19">gini = 0.05</tspan><tspan x="2749" dy="19">samples = 77</tspan><tspan x="2749" dy="19">value = [115, 3]</tspan></text></g>
<g id="n92"><rect x="2598.8" y="935" width="136.4" height="86" rx="11" fill="#e89253"/><text x="2667" y="955.5">X<tspan class="s" dy="4">1</tspan><tspan dy="-4"> ≤ 0.996</tspan><tspan x="2667" dy="19">gini = 0.208</tspan><tspan x="2667" dy="19">samples = 10</tspan><tspan x="2667" dy="19">value = [15, 2]</tspan></text></g>
<g id="n93"><rect x="2447.8" y="1075.5" width="136.4" height="71" rx="11" class="o"/><text x="2516" y="1098">gini = 0.0<tspan x="2516" dy="19">samples = 9</tspan><tspan x="2516" dy="19">value = [15, 0]</tspan></text></g>
<g id="n94"><rect x="2607.5" y="1075.5" width="127" height="71" rx="11" class="b"/><text x="2671" y="1098">gini = 0.0<tspan x="2671" dy="19">samples = 1</tspan><tspan x="2671" dy="19">value = [0, 2]</tspan></text></g>
<g id="n95"><rect x="2758.1" y="935" width="145.8" height="86" rx="11" fill="#e5823b"/><text x="2831" y="955.5">X<tspan class="s" dy="4">3</tspan><tspan dy="-4"> ≤ 0.011</tspan><tspan x="2831" dy="19">gini = 0.02</tspan><tspan x="2831" dy="19">samples = 67</tspan><tspan x="2831" dy="19">value = [100, 1]</tspan></text></g>
<g id="n96"><rect x="2759.8" y="1068" width="136.4" height="86" rx="11" fill="#e5823b"/><text x="2828" y="1088.5">X<tspan class="s" dy="4">1</tspan><tspan dy="-4"> ≤ 0.998</tspan><tspan x="2828" dy="19">gini = 0.021</tspan><tspan x="2828" dy="19">samples = 61</tspan><tspan x="2828" dy="19">value = [93, 1]</tspan></text></g>
<g id="n97"><rect x="2673.8" y="1208.5" width="136.4" height="71" rx="11" class="o"/><text x="2742" y="1231">gini = 0.0<tspan x="2742" dy="19">samples = 29</tspan><tspan x="2742" dy="19">value = [45, 0]</tspan></text></g>
<g id="n98"><rect x="2833.8" y="1201" width="136.4" height="86" rx="11" fill="#e6843d"/><text x="2902" y="1221.5">X<tspan class="s" dy="4">1</tspan><tspan dy="-4"> ≤ 0.998</tspan><tspan x="2902" dy="19">gini = 0.04</tspan><tspan x="2902" dy="19">samples = 32</tspan><tspan x="2902" dy="19">value = [48, 1]</tspan></text></g>
<g id="n99"><rect x="2692.8" y="1341.5" width="136.4" height="71" rx="11" fill="#e88e4d"/><text x="2761" y="1364">gini = 0.165<tspan x="2761" dy="19">samples = 7</tspan><tspan x="2761" dy="19">value = [10, 1]</tspan></text></g>
<g id="n100"><rect x="2852.8" y="1341.5" width="136.4" height="71" rx="11" class="o"/><text x="2921" y="1364">gini = 0.0<tspan x="2921" dy="19">samples = 25</tspan><tspan x="2921" dy="19">value = [38, 0]</tspan></text></g>
<g id="n101"><rect x="2919.5" y="1075.5" width="127" height="71" rx="11" class="o"/><text x="2983" y="1098">gini = 0.0<tspan x="2983" dy="19">samples = 6</tspan><tspan x="2983" dy="19">value = [7, 0]</tspan></text></g>
<g id="n102"><rect x="3075.4" y="669" width="155.2" height="86" rx="11" fill="#ea975c"/><text x="3153" y="689.5">X<tspan class="s" dy="4">1</tspan><tspan dy="-4"> ≤ 0.994</tspan><tspan x="3153" dy="19">gini = 0.253</tspan><tspan x="3153" dy="19">samples = 77</tspan><tspan x="3153" dy="19">value = [103, 18]</tspan></text></g>
<g id="n103"><rect x="3084.8" y="802" width="136.4" height="86" rx="11" fill="#e88f4f"/><text x="3153" y="822.5">X<tspan class="s" dy="4">2</tspan><tspan dy="-4"> ≤ 0.169</tspan><tspan x="3153" dy="19">gini = 0.18</tspan><tspan x="3153" dy="19">samples = 55</tspan><tspan x="3153" dy="19">value = [81, 9]</tspan></text></g>
<g id="n104"><rect x="3065.8" y="935" width="136.4" height="86" rx="11" fill="#e89151"/><text x="3134" y="955.5">X<tspan class="s" dy="4">1</tspan><tspan dy="-4"> ≤ 0.987</tspan><tspan x="3134" dy="19">gini = 0.195</tspan><tspan x="3134" dy="19">samples = 50</tspan><tspan x="3134" dy="19">value = [73, 9]</tspan></text></g>
<g id="n105"><rect x="3070.5" y="1075.5" width="127" height="71" rx="11" fill="#efb388"/><text x="3134" y="1098">gini = 0.408<tspan x="3134" dy="19">samples = 5</tspan><tspan x="3134" dy="19">value = [5, 2]</tspan></text></g>
<g id="n106"><rect x="3221.8" y="1068" width="136.4" height="86" rx="11" fill="#e88e4d"/><text x="3290" y="1088.5">X<tspan class="s" dy="4">3</tspan><tspan dy="-4"> ≤ 0.026</tspan><tspan x="3290" dy="19">gini = 0.169</tspan><tspan x="3290" dy="19">samples = 45</tspan><tspan x="3290" dy="19">value = [68, 7]</tspan></text></g>
<g id="n107"><rect x="3067.8" y="1201" width="136.4" height="86" rx="11" fill="#e88e4e"/><text x="3136" y="1221.5">X<tspan class="s" dy="4">1</tspan><tspan dy="-4"> ≤ 0.991</tspan><tspan x="3136" dy="19">gini = 0.171</tspan><tspan x="3136" dy="19">samples = 44</tspan><tspan x="3136" dy="19">value = [67, 7]</tspan></text></g>
<g id="n108"><rect x="3049.8" y="1334" width="136.4" height="86" rx="11" fill="#e78945"/><text x="3118" y="1354.5">X<tspan class="s" dy="4">2</tspan><tspan dy="-4"> ≤ 0.152</tspan><tspan x="3118" dy="19">gini = 0.108</tspan><tspan x="3118" dy="19">samples = 20</tspan><tspan x="3118" dy="19">value = [33, 2]</tspan></text></g>
<g id="n109"><rect x="2894.8" y="1467" width="136.4" height="86" rx="11" fill="#e68640"/><text x="2963" y="1487.5">X<tspan class="s" dy="4">1</tspan><tspan dy="-4"> ≤ 0.99</tspan><tspan x="2963" dy="19">gini = 0.069</tspan><tspan x="2963" dy="19">samples = 15</tspan><tspan x="2963" dy="19">value = [27, 1]</tspan></text></g>
<g id="n110"><rect x="2740.8" y="1600" width="136.4" height="86" rx="11" fill="#e68844"/><text x="2809" y="1620.5">X<tspan class="s" dy="4">2</tspan><tspan dy="-4"> ≤ 0.145</tspan><tspan x="2809" dy="19">gini = 0.1</tspan><tspan x="2809" dy="19">samples = 10</tspan><tspan x="2809" dy="19">value = [18, 1]</tspan></text></g>
<g id="n111"><rect x="2627.8" y="1740.5" width="136.4" height="71" rx="11" fill="#e78845"/><text x="2696" y="1763">gini = 0.105<tspan x="2696" dy="19">samples = 9</tspan><tspan x="2696" dy="19">value = [17, 1]</tspan></text></g>
<g id="n112"><rect x="2788.5" y="1740.5" width="127" height="71" rx="11" class="o"/><text x="2852" y="1763">gini = 0.0<tspan x="2852" dy="19">samples = 1</tspan><tspan x="2852" dy="19">value = [1, 0]</tspan></text></g>
<g id="n113"><rect x="2901.5" y="1607.5" width="127" height="71" rx="11" class="o"/><text x="2965" y="1630">gini = 0.0<tspan x="2965" dy="19">samples = 5</tspan><tspan x="2965" dy="19">value = [9, 0]</tspan></text></g>
<g id="n114"><rect x="3056.5" y="1474.5" width="127" height="71" rx="11" fill="#e9965a"/><text x="3120" y="1497">gini = 0.245<tspan x="3120" dy="19">samples = 5</tspan><tspan x="3120" dy="19">value = [6, 1]</tspan></text></g>
<g id="n115"><rect x="3209.8" y="1334" width="136.4" height="86" rx="11" fill="#e99456"/><text x="3278" y="1354.5">X<tspan class="s" dy="4">1</tspan><tspan dy="-4"> ≤ 0.993</tspan><tspan x="3278" dy="19">gini = 0.224</tspan><tspan x="3278" dy="19">samples = 24</tspan><tspan x="3278" dy="19">value = [34, 5]</tspan></text></g>
<g id="n116"><rect x="3208.8" y="1467" width="136.4" height="86" rx="11" fill="#eca572"/><text x="3277" y="1487.5">X<tspan class="s" dy="4">1</tspan><tspan dy="-4"> ≤ 0.993</tspan><tspan x="3277" dy="19">gini = 0.346</tspan><tspan x="3277" dy="19">samples = 11</tspan><tspan x="3277" dy="19">value = [14, 4]</tspan></text></g>
<g id="n117"><rect x="3054.8" y="1600" width="136.4" height="86" rx="11" fill="#ea985d"/><text x="3123" y="1620.5">X<tspan class="s" dy="4">2</tspan><tspan dy="-4"> ≤ 0.127</tspan><tspan x="3123" dy="19">gini = 0.26</tspan><tspan x="3123" dy="19">samples = 8</tspan><tspan x="3123" dy="19">value = [11, 2]</tspan></text></g>
<g id="n118"><rect x="2984.5" y="1740.5" width="127" height="71" rx="11" class="o"/><text x="3048" y="1763">gini = 0.0<tspan x="3048" dy="19">samples = 4</tspan><tspan x="3048" dy="19">value = [6, 0]</tspan></text></g>
<g id="n119"><rect x="3134.5" y="1740.5" width="127" height="71" rx="11" fill="#efb388"/><text x="3198" y="1763">gini = 0.408<tspan x="3198" dy="19">samples = 4</tspan><tspan x="3198" dy="19">value = [5, 2]</tspan></text></g>
<g id="n120"><rect x="3216.5" y="1607.5" width="127" height="71" rx="11" fill="#f6d5bd"/><text x="3280" y="1630">gini = 0.48<tspan x="3280" dy="19">samples = 3</tspan><tspan x="3280" dy="19">value = [3, 2]</tspan></text></g>
<g id="n121"><rect x="3368.8" y="1467" width="136.4" height="86" rx="11" fill="#e68743"/><text x="3437" y="1487.5">X<tspan class="s" dy="4">1</tspan><tspan dy="-4"> ≤ 0.994</tspan><tspan x="3437" dy="19">gini = 0.091</tspan><tspan x="3437" dy="19">samples = 13</tspan><tspan x="3437" dy="19">value = [20, 1]</tspan></text></g>
<g id="n122"><rect x="3370.5" y="1607.5" width="127" height="71" rx="11" class="o"/><text x="3434" y="1630">gini = 0.0<tspan x="3434" dy="19">samples = 5</tspan><tspan x="3434" dy="19">value = [8, 0]</tspan></text></g>
<g id="n123"><rect x="3521.8" y="1600" width="136.4" height="86" rx="11" fill="#e78c4a"/><text x="3590" y="1620.5">X<tspan class="s" dy="4">1</tspan><tspan dy="-4"> ≤ 0.994</tspan><tspan x="3590" dy="19">gini = 0.142</tspan><tspan x="3590" dy="19">samples = 8</tspan><tspan x="3590" dy="19">value = [12, 1]</tspan></text></g>
<g id="n124"><rect x="3451.5" y="1740.5" width="127" height="71" rx="11" fill="#e9965a"/><text x="3515" y="1763">gini = 0.245<tspan x="3515" dy="19">samples = 6</tspan><tspan x="3515" dy="19">value = [6, 1]</tspan></text></g>
<g id="n125"><rect x="3602.5" y="1740.5" width="127" height="71" rx="11" class="o"/><text x="3666" y="1763">gini = 0.0<tspan x="3666" dy="19">samples = 2</tspan><tspan x="3666" dy="19">value = [6, 0]</tspan></text></g>
<g id="n126"><rect x="3228.5" y="1208.5" width="127" height="71" rx="11" class="o"/><text x="3292" y="1231">gini = 0.0<tspan x="3292" dy="19">samples = 1</tspan><tspan x="3292" dy="19">value = [1, 0]</tspan></text></g>
<g id="n127"><rect x="3226.5" y="942.5" width="127" height="71" rx="11" class="o"/><text x="3290" y="965">gini = 0.0<tspan x="3290" dy="19">samples = 5</tspan><tspan x="3290" dy="19">value = [8, 0]</tspan></text></g>
<g id="n128"><rect x="3357.8" y="802" width="136.4" height="86" rx="11" fill="#f0b58a"/><text x="3426" y="822.5">X<tspan class="s" dy="4">2</tspan><tspan dy="-4"> ≤ 0.098</tspan><tspan x="3426" dy="19">gini = 0.412</tspan><tspan x="3426" dy="19">samples = 22</tspan><tspan x="3426" dy="19">value = [22, 9]</tspan></text></g>
<g id="n129"><rect x="3377.8" y="935" width="136.4" height="86" rx="11" fill="#e9965a"/><text x="3446" y="955.5">X<tspan class="s" dy="4">2</tspan><tspan dy="-4"> ≤ 0.094</tspan><tspan x="3446" dy="19">gini = 0.245</tspan><tspan x="3446" dy="19">samples = 11</tspan><tspan x="3446" dy="19">value = [12, 2]</tspan></text></g>
<g id="n130"><rect x="3383.5" y="1068" width="127" height="86" rx="11" fill="#f6d5bd"/><text x="3447" y="1088.5">X<tspan class="s" dy="4">2</tspan><tspan dy="-4"> ≤ 0.092</tspan><tspan x="3447" dy="19">gini = 0.48</tspan><tspan x="3447" dy="19">samples = 4</tspan><tspan x="3447" dy="19">value = [3, 2]</tspan></text></g>
<g id="n131"><rect x="3381.5" y="1208.5" width="127" height="71" rx="11" class="w"/><text x="3445" y="1231">gini = 0.5<tspan x="3445" dy="19">samples = 2</tspan><tspan x="3445" dy="19">value = [1, 1]</tspan></text></g>
<g id="n132"><rect x="3531.5" y="1208.5" width="127" height="71" rx="11" fill="#f2c09c"/><text x="3595" y="1231">gini = 0.444<tspan x="3595" dy="19">samples = 2</tspan><tspan x="3595" dy="19">value = [2, 1]</tspan></text></g>
<g id="n133"><rect x="3533.5" y="1075.5" width="127" height="71" rx="11" class="o"/><text x="3597" y="1098">gini = 0.0<tspan x="3597" dy="19">samples = 7</tspan><tspan x="3597" dy="19">value = [9, 0]</tspan></text></g>
<g id="n134"><rect x="3679.8" y="935" width="136.4" height="86" rx="11" fill="#f7d9c4"/><text x="3748" y="955.5">X<tspan class="s" dy="4">2</tspan><tspan dy="-4"> ≤ 0.101</tspan><tspan x="3748" dy="19">gini = 0.484</tspan><tspan x="3748" dy="19">samples = 11</tspan><tspan x="3748" dy="19">value = [10, 7]</tspan></text></g>
<g id="n135"><rect x="3684.5" y="1075.5" width="127" height="71" rx="11" class="w"/><text x="3748" y="1098">gini = 0.5<tspan x="3748" dy="19">samples = 4</tspan><tspan x="3748" dy="19">value = [3, 3]</tspan></text></g>
<g id="n136"><rect x="3834.5" y="1068" width="127" height="86" rx="11" fill="#f4c9aa"/><text x="3898" y="1088.5">X<tspan class="s" dy="4">1</tspan><tspan dy="-4"> ≤ 0.995</tspan><tspan x="3898" dy="19">gini = 0.463</tspan><tspan x="3898" dy="19">samples = 7</tspan><tspan x="3898" dy="19">value = [7, 4]</tspan></text></g>
<g id="n137"><rect x="3684.5" y="1208.5" width="127" height="71" rx="11" fill="#f6d5bd"/><text x="3748" y="1231">gini = 0.48<tspan x="3748" dy="19">samples = 4</tspan><tspan x="3748" dy="19">value = [3, 2]</tspan></text></g>
<g id="n138"><rect x="3834.5" y="1208.5" width="127" height="71" rx="11" fill="#f2c09c"/><text x="3898" y="1231">gini = 0.444<tspan x="3898" dy="19">samples = 3</tspan><tspan x="3898" dy="19">value = [4, 2]</tspan></text></g>
<g id="n139"><rect x="3330.5" y="536" width="127" height="86" rx="11" fill="#9ccef2"/><text x="3394" y="556.5">X<tspan class="s" dy="4">3</tspan><tspan dy="-4"> ≤ 0.12</tspan><tspan x="3394" dy="19">gini = 0.444</tspan><tspan x="3394" dy="19">samples = 3</tspan><tspan x="3394" dy="19">value = [2, 4]</tspan></text></g>
<g id="n140"><rect x="3330.5" y="676.5" width="127" height="71" rx="11" class="b"/><text x="3394" y="699">gini = 0.0<tspan x="3394" dy="19">samples = 1</tspan><tspan x="3394" dy="19">value = [0, 2]</tspan></text></g>
<g id="n141"><rect x="3518.5" y="669" width="127" height="86" rx="11" class="w"/><text x="3582" y="689.5">X<tspan class="s" dy="4">3</tspan><tspan dy="-4"> ≤ 0.138</tspan><tspan x="3582" dy="19">gini = 0.5</tspan><tspan x="3582" dy="19">samples = 2</tspan><tspan x="3582" dy="19">value = [2, 2]</tspan></text></g>
<g id="n142"><rect x="3518.5" y="809.5" width="127" height="71" rx="11" class="o"/><text x="3582" y="832">gini = 0.0<tspan x="3582" dy="19">samples = 1</tspan><tspan x="3582" dy="19">value = [2, 0]</tspan></text></g>
<g id="n143"><rect x="3669.5" y="809.5" width="127" height="71" rx="11" class="b"/><text x="3733" y="832">gini = 0.0<tspan x="3733" dy="19">samples = 1</tspan><tspan x="3733" dy="19">value = [0, 2]</tspan></text></g>
<g id="n144"><rect x="5307.4" y="137" width="155.2" height="86" rx="11" fill="#60b0ea"/><text x="5385" y="157.5">X<tspan class="s" dy="4">1</tspan><tspan dy="-4"> ≤ 0.997</tspan><tspan x="5385" dy="19">gini = 0.275</tspan><tspan x="5385" dy="19">samples = 195</tspan><tspan x="5385" dy="19">value = [50, 254]</tspan></text></g>
<g id="n145"><rect x="5307.4" y="270" width="155.2" height="86" rx="11" fill="#85c2ef"/><text x="5385" y="290.5">X<tspan class="s" dy="4">0</tspan><tspan dy="-4"> ≤ 0.026</tspan><tspan x="5385" dy="19">gini = 0.4</tspan><tspan x="5385" dy="19">samples = 95</tspan><tspan x="5385" dy="19">value = [42, 110]</tspan></text></g>
<g id="n146"><rect x="5239.5" y="410.5" width="127" height="71" rx="11" class="o"/><text x="5303" y="433">gini = 0.0<tspan x="5303" dy="19">samples = 2</tspan><tspan x="5303" dy="19">value = [4, 0]</tspan></text></g>
<g id="n147"><rect x="5390.4" y="403" width="155.2" height="86" rx="11" fill="#7dbfee"/><text x="5468" y="423.5">X<tspan class="s" dy="4">2</tspan><tspan dy="-4"> ≤ 0.249</tspan><tspan x="5468" dy="19">gini = 0.382</tspan><tspan x="5468" dy="19">samples = 93</tspan><tspan x="5468" dy="19">value = [38, 110]</tspan></text></g>
<g id="n148"><rect x="5244.1" y="536" width="145.8" height="86" rx="11" fill="#69b5eb"/><text x="5317" y="556.5">X<tspan class="s" dy="4">0</tspan><tspan dy="-4"> ≤ 0.047</tspan><tspan x="5317" dy="19">gini = 0.313</tspan><tspan x="5317" dy="19">samples = 67</tspan><tspan x="5317" dy="19">value = [20, 83]</tspan></text></g>
<g id="n149"><rect x="5008.1" y="669" width="145.8" height="86" rx="11" fill="#92c9f1"/><text x="5081" y="689.5">X<tspan class="s" dy="4">2</tspan><tspan dy="-4"> ≤ 0.09</tspan><tspan x="5081" dy="19">gini = 0.427</tspan><tspan x="5081" dy="19">samples = 39</tspan><tspan x="5081" dy="19">value = [17, 38]</tspan></text></g>
<g id="n150"><rect x="4501.8" y="802" width="136.4" height="86" rx="11" fill="#67b4eb"/><text x="4570" y="822.5">X<tspan class="s" dy="4">3</tspan><tspan dy="-4"> ≤ 0.014</tspan><tspan x="4570" dy="19">gini = 0.305</tspan><tspan x="4570" dy="19">samples = 25</tspan><tspan x="4570" dy="19">value = [6, 26]</tspan></text></g>
<g id="n151"><rect x="4275.5" y="935" width="127" height="86" rx="11" fill="#c6e3f8"/><text x="4339" y="955.5">X<tspan class="s" dy="4">2</tspan><tspan dy="-4"> ≤ 0.083</tspan><tspan x="4339" dy="19">gini = 0.486</tspan><tspan x="4339" dy="19">samples = 9</tspan><tspan x="4339" dy="19">value = [5, 7]</tspan></text></g>
<g id="n152"><rect x="4125.5" y="1068" width="127" height="86" rx="11" fill="#fae6d7"/><text x="4189" y="1088.5">X<tspan class="s" dy="4">0</tspan><tspan dy="-4"> ≤ 0.032</tspan><tspan x="4189" dy="19">gini = 0.494</tspan><tspan x="4189" dy="19">samples = 7</tspan><tspan x="4189" dy="19">value = [5, 4]</tspan></text></g>
<g id="n153"><rect x="3985.5" y="1208.5" width="127" height="71" rx="11" class="o"/><text x="4049" y="1231">gini = 0.0<tspan x="4049" dy="19">samples = 1</tspan><tspan x="4049" dy="19">value = [2, 0]</tspan></text></g>
<g id="n154"><rect x="4135.5" y="1201" width="127" height="86" rx="11" fill="#cee6f8"/><text x="4199" y="1221.5">X<tspan class="s" dy="4">1</tspan><tspan dy="-4"> ≤ 0.996</tspan><tspan x="4199" dy="19">gini = 0.49</tspan><tspan x="4199" dy="19">samples = 6</tspan><tspan x="4199" dy="19">value = [3, 4]</tspan></text></g>
<g id="n155"><rect x="4059.5" y="1341.5" width="127" height="71" rx="11" fill="#f2c09c"/><text x="4123" y="1364">gini = 0.444<tspan x="4123" dy="19">samples = 2</tspan><tspan x="4123" dy="19">value = [2, 1]</tspan></text></g>
<g id="n156"><rect x="4210.5" y="1334" width="127" height="86" rx="11" fill="#7bbeee"/><text x="4274" y="1354.5">X<tspan class="s" dy="4">0</tspan><tspan dy="-4"> ≤ 0.038</tspan><tspan x="4274" dy="19">gini = 0.375</tspan><tspan x="4274" dy="19">samples = 4</tspan><tspan x="4274" dy="19">value = [1, 3]</tspan></text></g>
<g id="n157"><rect x="4134.5" y="1474.5" width="127" height="71" rx="11" fill="#9ccef2"/><text x="4198" y="1497">gini = 0.444<tspan x="4198" dy="19">samples = 3</tspan><tspan x="4198" dy="19">value = [1, 2]</tspan></text></g>
<g id="n158"><rect x="4285.5" y="1474.5" width="127" height="71" rx="11" class="b"/><text x="4349" y="1497">gini = 0.0<tspan x="4349" dy="19">samples = 1</tspan><tspan x="4349" dy="19">value = [0, 1]</tspan></text></g>
<g id="n159"><rect x="4275.5" y="1075.5" width="127" height="71" rx="11" class="b"/><text x="4339" y="1098">gini = 0.0<tspan x="4339" dy="19">samples = 2</tspan><tspan x="4339" dy="19">value = [0, 3]</tspan></text></g>
<g id="n160"><rect x="4501.8" y="935" width="136.4" height="86" rx="11" fill="#43a2e6"/><text x="4570" y="955.5">X<tspan class="s" dy="4">2</tspan><tspan dy="-4"> ≤ 0.042</tspan><tspan x="4570" dy="19">gini = 0.095</tspan><tspan x="4570" dy="19">samples = 16</tspan><tspan x="4570" dy="19">value = [1, 19]</tspan></text></g>
<g id="n161"><rect x="4426.5" y="1068" width="127" height="86" rx="11" fill="#9ccef2"/><text x="4490" y="1088.5">X<tspan class="s" dy="4">3</tspan><tspan dy="-4"> ≤ 0.077</tspan><tspan x="4490" dy="19">gini = 0.444</tspan><tspan x="4490" dy="19">samples = 2</tspan><tspan x="4490" dy="19">value = [1, 2]</tspan></text></g>
<g id="n162"><rect x="4286.5" y="1208.5" width="127" height="71" rx="11" class="b"/><text x="4350" y="1231">gini = 0.0<tspan x="4350" dy="19">samples = 1</tspan><tspan x="4350" dy="19">value = [0, 2]</tspan></text></g>
<g id="n163"><rect x="4437.5" y="1208.5" width="127" height="71" rx="11" class="o"/><text x="4501" y="1231">gini = 0.0<tspan x="4501" dy="19">samples = 1</tspan><tspan x="4501" dy="19">value = [1, 0]</tspan></text></g>
<g id="n164"><rect x="4579.8" y="1075.5" width="136.4" height="71" rx="11" class="b"/><text x="4648" y="1098">gini = 0.0<tspan x="4648" dy="19">samples = 14</tspan><tspan x="4648" dy="19">value = [0, 17]</tspan></text></g>
<g id="n165"><rect x="5008.1" y="802" width="145.8" height="86" rx="11" fill="#eef7fd"/><text x="5081" y="822.5">X<tspan class="s" dy="4">2</tspan><tspan dy="-4"> ≤ 0.115</tspan><tspan x="5081" dy="19">gini = 0.499</tspan><tspan x="5081" dy="19">samples = 14</tspan><tspan x="5081" dy="19">value = [11, 12]</tspan></text></g>
<g id="n166"><rect x="4889.5" y="935" width="127" height="86" rx="11" fill="#efb083"/><text x="4953" y="955.5">X<tspan class="s" dy="4">3</tspan><tspan dy="-4"> ≤ 0.016</tspan><tspan x="4953" dy="19">gini = 0.397</tspan><tspan x="4953" dy="19">samples = 7</tspan><tspan x="4953" dy="19">value = [8, 3]</tspan></text></g>
<g id="n167"><rect x="4738.5" y="1068" width="127" height="86" rx="11" class="w"/><text x="4802" y="1088.5">X<tspan class="s" dy="4">0</tspan><tspan dy="-4"> ≤ 0.039</tspan><tspan x="4802" dy="19">gini = 0.5</tspan><tspan x="4802" dy="19">samples = 5</tspan><tspan x="4802" dy="19">value = [3, 3]</tspan></text></g>
<g id="n168"><rect x="4588.5" y="1201" width="127" height="86" rx="11" fill="#7bbeee"/><text x="4652" y="1221.5">X<tspan class="s" dy="4">1</tspan><tspan dy="-4"> ≤ 0.995</tspan><tspan x="4652" dy="19">gini = 0.375</tspan><tspan x="4652" dy="19">samples = 4</tspan><tspan x="4652" dy="19">value = [1, 3]</tspan></text></g>
<g id="n169"><rect x="4511.5" y="1341.5" width="127" height="71" rx="11" fill="#9ccef2"/><text x="4575" y="1364">gini = 0.444<tspan x="4575" dy="19">samples = 3</tspan><tspan x="4575" dy="19">value = [1, 2]</tspan></text></g>
<g id="n170"><rect x="4662.5" y="1341.5" width="127" height="71" rx="11" class="b"/><text x="4726" y="1364">gini = 0.0<tspan x="4726" dy="19">samples = 1</tspan><tspan x="4726" dy="19">value = [0, 1]</tspan></text></g>
<g id="n171"><rect x="4738.5" y="1208.5" width="127" height="71" rx="11" class="o"/><text x="4802" y="1231">gini = 0.0<tspan x="4802" dy="19">samples = 1</tspan><tspan x="4802" dy="19">value = [2, 0]</tspan></text></g>
<g id="n172"><rect x="4889.5" y="1075.5" width="127" height="71" rx="11" class="o"/><text x="4953" y="1098">gini = 0.0<tspan x="4953" dy="19">samples = 2</tspan><tspan x="4953" dy="19">value = [5, 0]</tspan></text></g>
<g id="n173"><rect x="5040.5" y="935" width="127" height="86" rx="11" fill="#7bbeee"/><text x="5104" y="955.5">X<tspan class="s" dy="4">1</tspan><tspan dy="-4"> ≤ 0.989</tspan><tspan x="5104" dy="19">gini = 0.375</tspan><tspan x="5104" dy="19">samples = 7</tspan><tspan x="5104" dy="19">value = [3, 9]</tspan></text></g>
<g id="n174"><rect x="5040.5" y="1068" width="127" height="86" rx="11" class="w"/><text x="5104" y="1088.5">X<tspan class="s" dy="4">2</tspan><tspan dy="-4"> ≤ 0.132</tspan><tspan x="5104" dy="19">gini = 0.5</tspan><tspan x="5104" dy="19">samples = 2</tspan><tspan x="5104" dy="19">value = [2, 2]</tspan></text></g>
<g id="n175"><rect x="4889.5" y="1208.5" width="127" height="71" rx="11" class="b"/><text x="4953" y="1231">gini = 0.0<tspan x="4953" dy="19">samples = 1</tspan><tspan x="4953" dy="19">value = [0, 2]</tspan></text></g>
<g id="n176"><rect x="5040.5" y="1208.5" width="127" height="71" rx="11" class="o"/><text x="5104" y="1231">gini = 0.0<tspan x="5104" dy="19">samples = 1</tspan><tspan x="5104" dy="19">value = [2, 0]</tspan></text></g>
<g id="n177"><rect x="5190.5" y="1068" width="127" height="86" rx="11" fill="#55abe9"/><text x="5254" y="1088.5">X<tspan class="s" dy="4">1</tspan><tspan dy="-4"> ≤ 0.99</tspan><tspan x="5254" dy="19">gini = 0.219</tspan><tspan x="5254" dy="19">samples = 5</tspan><tspan x="5254" dy="19">value = [1, 7]</tspan></text></g>
<g id="n178"><rect x="5190.5" y="1208.5" width="127" height="71" rx="11" fill="#6ab6ec"/><text x="5254" y="1231">gini = 0.32<tspan x="5254" dy="19">samples = 4</tspan><tspan x="5254" dy="19">value = [1, 4]</tspan></text></g>
<g id="n179"><rect x="5341.5" y="1208.5" width="127" height="71" rx="11" class="b"/><text x="5405" y="1231">gini = 0.0<tspan x="5405" dy="19">samples = 1</tspan><tspan x="5405" dy="19">value = [0, 3]</tspan></text></g>
<g id="n180"><rect x="5248.8" y="669" width="136.4" height="86" rx="11" fill="#46a4e7"/><text x="5317" y="689.5">X<tspan class="s" dy="4">1</tspan><tspan dy="-4"> ≤ 0.986</tspan><tspan x="5317" dy="19">gini = 0.117</tspan><tspan x="5317" dy="19">samples = 28</tspan><tspan x="5317" dy="19">value = [3, 45]</tspan></text></g>
<g id="n181"><rect x="5213.8" y="802" width="136.4" height="86" rx="11" fill="#61b1ea"/><text x="5282" y="822.5">X<tspan class="s" dy="4">0</tspan><tspan dy="-4"> ≤ 0.06</tspan><tspan x="5282" dy="19">gini = 0.278</tspan><tspan x="5282" dy="19">samples = 11</tspan><tspan x="5282" dy="19">value = [3, 15]</tspan></text></g>
<g id="n182"><rect x="5196.5" y="935" width="127" height="86" rx="11" fill="#f6d5bd"/><text x="5260" y="955.5">X<tspan class="s" dy="4">3</tspan><tspan dy="-4"> ≤ 0.027</tspan><tspan x="5260" dy="19">gini = 0.48</tspan><tspan x="5260" dy="19">samples = 5</tspan><tspan x="5260" dy="19">value = [3, 2]</tspan></text></g>
<g id="n183"><rect x="5415.5" y="1068" width="127" height="86" rx="11" fill="#eeab7b"/><text x="5479" y="1088.5">X<tspan class="s" dy="4">2</tspan><tspan dy="-4"> ≤ 0.162</tspan><tspan x="5479" dy="19">gini = 0.375</tspan><tspan x="5479" dy="19">samples = 4</tspan><tspan x="5479" dy="19">value = [3, 1]</tspan></text></g>
<g id="n184"><rect x="5492.5" y="1208.5" width="127" height="71" rx="11" class="o"/><text x="5556" y="1231">gini = 0.0<tspan x="5556" dy="19">samples = 1</tspan><tspan x="5556" dy="19">value = [1, 0]</tspan></text></g>
<g id="n185"><rect x="5643.5" y="1201" width="127" height="86" rx="11" fill="#f2c09c"/><text x="5707" y="1221.5">X<tspan class="s" dy="4">1</tspan><tspan dy="-4"> ≤ 0.984</tspan><tspan x="5707" dy="19">gini = 0.444</tspan><tspan x="5707" dy="19">samples = 3</tspan><tspan x="5707" dy="19">value = [2, 1]</tspan></text></g>
<g id="n186"><rect x="5566.5" y="1341.5" width="127" height="71" rx="11" class="o"/><text x="5630" y="1364">gini = 0.0<tspan x="5630" dy="19">samples = 1</tspan><tspan x="5630" dy="19">value = [1, 0]</tspan></text></g>
<g id="n187"><rect x="5717.5" y="1341.5" width="127" height="71" rx="11" class="w"/><text x="5781" y="1364">gini = 0.5<tspan x="5781" dy="19">samples = 2</tspan><tspan x="5781" dy="19">value = [1, 1]</tspan></text></g>
<g id="n188"><rect x="5566.5" y="1075.5" width="127" height="71" rx="11" class="b"/><text x="5630" y="1098">gini = 0.0<tspan x="5630" dy="19">samples = 1</tspan><tspan x="5630" dy="19">value = [0, 1]</tspan></text></g>
<g id="n189"><rect x="5348.8" y="942.5" width="136.4" height="71" rx="11" class="b"/><text x="5417" y="965">gini = 0.0<tspan x="5417" dy="19">samples = 6</tspan><tspan x="5417" dy="19">value = [0, 13]</tspan></text></g>
<g id="n190"><rect x="5373.8" y="809.5" width="136.4" height="71" rx="11" class="b"/><text x="5442" y="832">gini = 0.0<tspan x="5442" dy="19">samples = 17</tspan><tspan x="5442" dy="19">value = [0, 30]</tspan></text></g>
<g id="n191"><rect x="5628.1" y="536" width="145.8" height="86" rx="11" fill="#bddef6"/><text x="5701" y="556.5">X<tspan class="s" dy="4">0</tspan><tspan dy="-4"> ≤ 0.151</tspan><tspan x="5701" dy="19">gini = 0.48</tspan><tspan x="5701" dy="19">samples = 26</tspan><tspan x="5701" dy="19">value = [18, 27]</tspan></text></g>
<g id="n192"><rect x="5632.8" y="669" width="136.4" height="86" rx="11" fill="#e78c4a"/><text x="5701" y="689.5">X<tspan class="s" dy="4">1</tspan><tspan dy="-4"> ≤ 0.921</tspan><tspan x="5701" dy="19">gini = 0.142</tspan><tspan x="5701" dy="19">samples = 5</tspan><tspan x="5701" dy="19">value = [12, 1]</tspan></text></g>
<g id="n193"><rect x="5560.5" y="802" width="127" height="86" rx="11" fill="#eeab7b"/><text x="5624" y="822.5">X<tspan class="s" dy="4">2</tspan><tspan dy="-4"> ≤ 0.343</tspan><tspan x="5624" dy="19">gini = 0.375</tspan><tspan x="5624" dy="19">samples = 2</tspan><tspan x="5624" dy="19">value = [3, 1]</tspan></text></g>
<g id="n194"><rect x="5509.5" y="942.5" width="127" height="71" rx="11" class="b"/><text x="5573" y="965">gini = 0.0<tspan x="5573" dy="19">samples = 1</tspan><tspan x="5573" dy="19">value = [0, 1]</tspan></text></g>
<g id="n195"><rect x="5659.5" y="942.5" width="127" height="71" rx="11" class="o"/><text x="5723" y="965">gini = 0.0<tspan x="5723" dy="19">samples = 1</tspan><tspan x="5723" dy="19">value = [3, 0]</tspan></text></g>
<g id="n196"><rect x="5711.5" y="809.5" width="127" height="71" rx="11" class="o"/><text x="5775" y="832">gini = 0.0<tspan x="5775" dy="19">samples = 3</tspan><tspan x="5775" dy="19">value = [9, 0]</tspan></text></g>
<g id="n197"><rect x="5891.8" y="669" width="136.4" height="86" rx="11" fill="#67b4eb"/><text x="5960" y="689.5">X<tspan class="s" dy="4">2</tspan><tspan dy="-4"> ≤ 0.801</tspan><tspan x="5960" dy="19">gini = 0.305</tspan><tspan x="5960" dy="19">samples = 21</tspan><tspan x="5960" dy="19">value = [6, 26]</tspan></text></g>
<g id="n198"><rect x="5891.8" y="802" width="136.4" height="86" rx="11" fill="#43a2e6"/><text x="5960" y="822.5">X<tspan class="s" dy="4">1</tspan><tspan dy="-4"> ≤ 0.394</tspan><tspan x="5960" dy="19">gini = 0.091</tspan><tspan x="5960" dy="19">samples = 13</tspan><tspan x="5960" dy="19">value = [1, 20]</tspan></text></g>
<g id="n199"><rect x="5810.8" y="942.5" width="136.4" height="71" rx="11" class="b"/><text x="5879" y="965">gini = 0.0<tspan x="5879" dy="19">samples = 9</tspan><tspan x="5879" dy="19">value = [0, 17]</tspan></text></g>
<g id="n200"><rect x="5972.5" y="935" width="127" height="86" rx="11" fill="#7bbeee"/><text x="6036" y="955.5">X<tspan class="s" dy="4">1</tspan><tspan dy="-4"> ≤ 0.589</tspan><tspan x="6036" dy="19">gini = 0.375</tspan><tspan x="6036" dy="19">samples = 4</tspan><tspan x="6036" dy="19">value = [1, 3]</tspan></text></g>
<g id="n201"><rect x="5821.5" y="1075.5" width="127" height="71" rx="11" class="o"/><text x="5885" y="1098">gini = 0.0<tspan x="5885" dy="19">samples = 1</tspan><tspan x="5885" dy="19">value = [1, 0]</tspan></text></g>
<g id="n202"><rect x="5972.5" y="1075.5" width="127" height="71" rx="11" class="b"/><text x="6036" y="1098">gini = 0.0<tspan x="6036" dy="19">samples = 3</tspan><tspan x="6036" dy="19">value = [0, 3]</tspan></text></g>
<g id="n203"><rect x="6122.5" y="802" width="127" height="86" rx="11" fill="#deeffb"/><text x="6186" y="822.5">X<tspan class="s" dy="4">3</tspan><tspan dy="-4"> ≤ 0.414</tspan><tspan x="6186" dy="19">gini = 0.496</tspan><tspan x="6186" dy="19">samples = 8</tspan><tspan x="6186" dy="19">value = [5, 6]</tspan></text></g>
<g id="n204"><rect x="6122.5" y="935" width="127" height="86" rx="11" fill="#9ccef2"/><text x="6186" y="955.5">X<tspan class="s" dy="4">0</tspan><tspan dy="-4"> ≤ 0.305</tspan><tspan x="6186" dy="19">gini = 0.444</tspan><tspan x="6186" dy="19">samples = 6</tspan><tspan x="6186" dy="19">value = [3, 6]</tspan></text></g>
<g id="n205"><rect x="6122.5" y="1075.5" width="127" height="71" rx="11" class="b"/><text x="6186" y="1098">gini = 0.0<tspan x="6186" dy="19">samples = 2</tspan><tspan x="6186" dy="19">value = [0, 2]</tspan></text></g>
<g id="n206"><rect x="6272.5" y="1068" width="127" height="86" rx="11" fill="#cee6f8"/><text x="6336" y="1088.5">X<tspan class="s" dy="4">0</tspan><tspan dy="-4"> ≤ 0.382</tspan><tspan x="6336" dy="19">gini = 0.49</tspan><tspan x="6336" dy="19">samples = 4</tspan><tspan x="6336" dy="19">value = [3, 4]</tspan></text></g>
<g id="n207"><rect x="6136.5" y="1208.5" width="127" height="71" rx="11" fill="#9ccef2"/><text x="6200" y="1231">gini = 0.444<tspan x="6200" dy="19">samples = 2</tspan><tspan x="6200" dy="19">value = [1, 2]</tspan></text></g>
<g id="n208"><rect x="6286.5" y="1208.5" width="127" height="71" rx="11" class="w"/><text x="6350" y="1231">gini = 0.5<tspan x="6350" dy="19">samples = 2</tspan><tspan x="6350" dy="19">value = [2, 2]</tspan></text></g>
<g id="n209"><rect x="6272.5" y="942.5" width="127" height="71" rx="11" class="o"/><text x="6336" y="965">gini = 0.0<tspan x="6336" dy="19">samples = 2</tspan><tspan x="6336" dy="19">value = [2, 0]</tspan></text></g>
<g id="n210"><rect x="6496.1" y="270" width="145.8" height="86" rx="11" fill="#44a2e6"/><text x="6569" y="290.5">X<tspan class="s" dy="4">3</tspan><tspan dy="-4"> ≤ 0.022</tspan><tspan x="6569" dy="19">gini = 0.1</tspan><tspan x="6569" dy="19">samples = 100</tspan><tspan x="6569" dy="19">value = [8, 144]</tspan></text></g>
<g id="n211"><rect x="6496.1" y="403" width="145.8" height="86" rx="11" fill="#48a4e7"/><text x="6569" y="423.5">X<tspan class="s" dy="4">3</tspan><tspan dy="-4"> ≤ 0.022</tspan><tspan x="6569" dy="19">gini = 0.127</tspan><tspan x="6569" dy="19">samples = 81</tspan><tspan x="6569" dy="19">value = [8, 109]</tspan></text></g>
<g id="n212"><rect x="6496.1" y="536" width="145.8" height="86" rx="11" fill="#46a3e7"/><text x="6569" y="556.5">X<tspan class="s" dy="4">1</tspan><tspan dy="-4"> ≤ 0.999</tspan><tspan x="6569" dy="19">gini = 0.113</tspan><tspan x="6569" dy="19">samples = 80</tspan><tspan x="6569" dy="19">value = [7, 109]</tspan></text></g>
<g id="n213"><rect x="6500.8" y="669" width="136.4" height="86" rx="11" fill="#4fa8e8"/><text x="6569" y="689.5">X<tspan class="s" dy="4">1</tspan><tspan dy="-4"> ≤ 0.999</tspan><tspan x="6569" dy="19">gini = 0.18</tspan><tspan x="6569" dy="19">samples = 35</tspan><tspan x="6569" dy="19">value = [5, 45]</tspan></text></g>
<g id="n214"><rect x="6425.8" y="802" width="136.4" height="86" rx="11" fill="#3d9fe6"/><text x="6494" y="822.5">X<tspan class="s" dy="4">2</tspan><tspan dy="-4"> ≤ 0.065</tspan><tspan x="6494" dy="19">gini = 0.043</tspan><tspan x="6494" dy="19">samples = 34</tspan><tspan x="6494" dy="19">value = [1, 45]</tspan></text></g>
<g id="n215"><rect x="6424.8" y="942.5" width="136.4" height="71" rx="11" class="b"/><text x="6493" y="965">gini = 0.0<tspan x="6493" dy="19">samples = 28</tspan><tspan x="6493" dy="19">value = [0, 39]</tspan></text></g>
<g id="n216"><rect x="6585.5" y="935" width="127" height="86" rx="11" fill="#5aade9"/><text x="6649" y="955.5">X<tspan class="s" dy="4">1</tspan><tspan dy="-4"> ≤ 0.997</tspan><tspan x="6649" dy="19">gini = 0.245</tspan><tspan x="6649" dy="19">samples = 6</tspan><tspan x="6649" dy="19">value = [1, 6]</tspan></text></g>
<g id="n217"><rect x="6443.5" y="1075.5" width="127" height="71" rx="11" class="b"/><text x="6507" y="1098">gini = 0.0<tspan x="6507" dy="19">samples = 3</tspan><tspan x="6507" dy="19">value = [0, 3]</tspan></text></g>
<g id="n218"><rect x="6594.5" y="1068" width="127" height="86" rx="11" fill="#7bbeee"/><text x="6658" y="1088.5">X<tspan class="s" dy="4">2</tspan><tspan dy="-4"> ≤ 0.066</tspan><tspan x="6658" dy="19">gini = 0.375</tspan><tspan x="6658" dy="19">samples = 3</tspan><tspan x="6658" dy="19">value = [1, 3]</tspan></text></g>
<g id="n219"><rect x="6451.5" y="1208.5" width="127" height="71" rx="11" class="w"/><text x="6515" y="1231">gini = 0.5<tspan x="6515" dy="19">samples = 2</tspan><tspan x="6515" dy="19">value = [1, 1]</tspan></text></g>
<g id="n220"><rect x="6602.5" y="1208.5" width="127" height="71" rx="11" class="b"/><text x="6666" y="1231">gini = 0.0<tspan x="6666" dy="19">samples = 1</tspan><tspan x="6666" dy="19">value = [0, 2]</tspan></text></g>
<g id="n221"><rect x="6585.5" y="809.5" width="127" height="71" rx="11" class="o"/><text x="6649" y="832">gini = 0.0<tspan x="6649" dy="19">samples = 1</tspan><tspan x="6649" dy="19">value = [4, 0]</tspan></text></g>
<g id="n222"><rect x="6736.8" y="669" width="136.4" height="86" rx="11" fill="#3fa0e6"/><text x="6805" y="689.5">X<tspan class="s" dy="4">0</tspan><tspan dy="-4"> ≤ 0.018</tspan><tspan x="6805" dy="19">gini = 0.059</tspan><tspan x="6805" dy="19">samples = 45</tspan><tspan x="6805" dy="19">value = [2, 64]</tspan></text></g>
<g id="n223"><rect x="6736.8" y="802" width="136.4" height="86" rx="11" fill="#5dafea"/><text x="6805" y="822.5">X<tspan class="s" dy="4">1</tspan><tspan dy="-4"> ≤ 0.999</tspan><tspan x="6805" dy="19">gini = 0.26</tspan><tspan x="6805" dy="19">samples = 9</tspan><tspan x="6805" dy="19">value = [2, 11]</tspan></text></g>
<g id="n224"><rect x="6738.5" y="942.5" width="127" height="71" rx="11" class="o"/><text x="6802" y="965">gini = 0.0<tspan x="6802" dy="19">samples = 1</tspan><tspan x="6802" dy="19">value = [1, 0]</tspan></text></g>
<g id="n225"><rect x="6890.8" y="935" width="136.4" height="86" rx="11" fill="#4ba6e7"/><text x="6959" y="955.5">X<tspan class="s" dy="4">0</tspan><tspan dy="-4"> ≤ 0.016</tspan><tspan x="6959" dy="19">gini = 0.153</tspan><tspan x="6959" dy="19">samples = 8</tspan><tspan x="6959" dy="19">value = [1, 11]</tspan></text></g>
<g id="n226"><rect x="6861.5" y="1068" width="127" height="86" rx="11" fill="#5aade9"/><text x="6925" y="1088.5">X<tspan class="s" dy="4">2</tspan><tspan dy="-4"> ≤ 0.016</tspan><tspan x="6925" dy="19">gini = 0.245</tspan><tspan x="6925" dy="19">samples = 4</tspan><tspan x="6925" dy="19">value = [1, 6]</tspan></text></g>
<g id="n227"><rect x="6793.5" y="1208.5" width="127" height="71" rx="11" class="b"/><text x="6857" y="1231">gini = 0.0<tspan x="6857" dy="19">samples = 2</tspan><tspan x="6857" dy="19">value = [0, 2]</tspan></text></g>
<g id="n228"><rect x="6943.5" y="1208.5" width="127" height="71" rx="11" fill="#6ab6ec"/><text x="7007" y="1231">gini = 0.32<tspan x="7007" dy="19">samples = 2</tspan><tspan x="7007" dy="19">value = [1, 4]</tspan></text></g>
<g id="n229"><rect x="7024.5" y="1075.5" width="127" height="71" rx="11" class="b"/><text x="7088" y="1098">gini = 0.0<tspan x="7088" dy="19">samples = 4</tspan><tspan x="7088" dy="19">value = [0, 5]</tspan></text></g>
<g id="n230"><rect x="6896.8" y="809.5" width="136.4" height="71" rx="11" class="b"/><text x="6965" y="832">gini = 0.0<tspan x="6965" dy="19">samples = 36</tspan><tspan x="6965" dy="19">value = [0, 53]</tspan></text></g>
<g id="n231"><rect x="6667.5" y="543.5" width="127" height="71" rx="11" class="o"/><text x="6731" y="566">gini = 0.0<tspan x="6731" dy="19">samples = 1</tspan><tspan x="6731" dy="19">value = [1, 0]</tspan></text></g>
<g id="n232"><rect x="6665.8" y="410.5" width="136.4" height="71" rx="11" class="b"/><text x="6734" y="433">gini = 0.0<tspan x="6734" dy="19">samples = 19</tspan><tspan x="6734" dy="19">value = [0, 35]</tspan></text></g>
</svg>
